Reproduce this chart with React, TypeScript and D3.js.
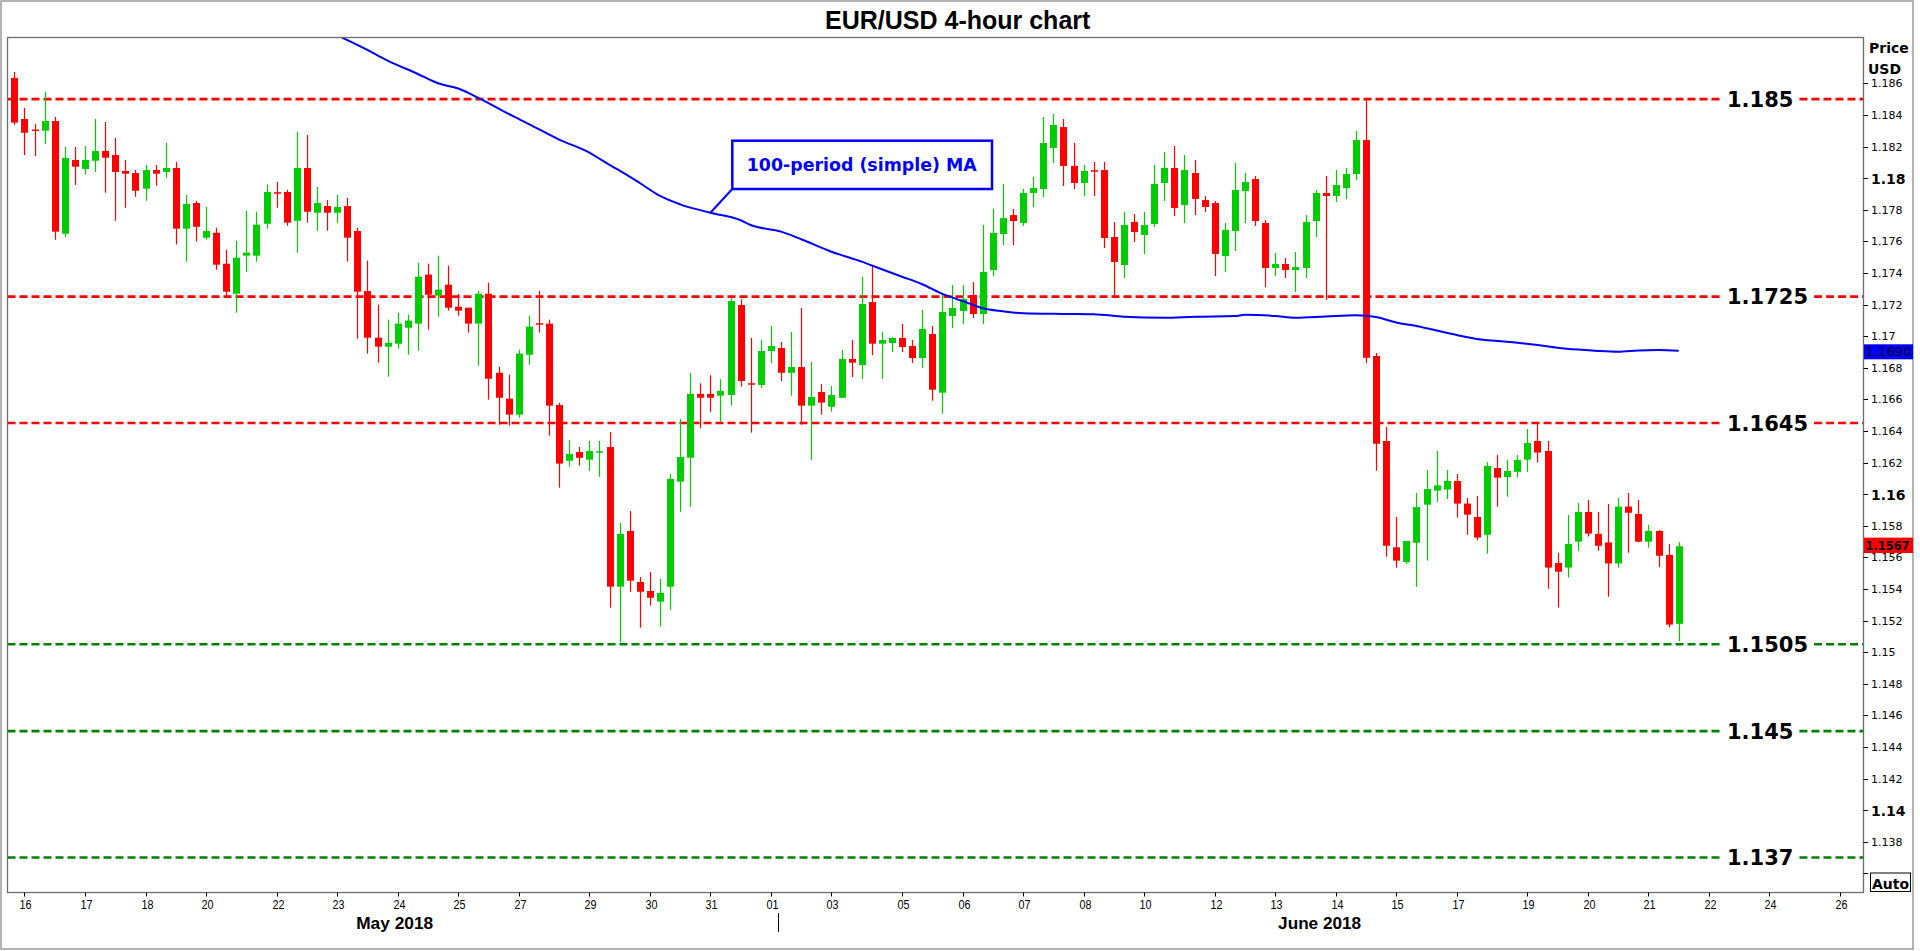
import React from 'react';
import * as d3 from 'd3';

// ---- Data (EUR/USD 4-hour bars, index 0 = last bar of 15 May 2018) ----
const barOpen = [
  1.18634, 1.18374, 1.18304, 1.183, 1.18361, 1.17648, 1.18115, 1.18058, 1.1811, 1.18172,
  1.18146, 1.18045, 1.18032, 1.17933, 1.18051, 1.18039, 1.18064, 1.1768, 1.17842, 1.17623,
  1.17654, 1.17458, 1.17268, 1.17509, 1.17509, 1.17711, 1.17908, 1.17912, 1.1773, 1.18064,
  1.17781, 1.17823, 1.17781, 1.17823, 1.17665, 1.17285, 1.1699, 1.16933, 1.16952, 1.17053,
  1.17079, 1.17389, 1.17256, 1.17325, 1.17186, 1.1718, 1.17079, 1.17268, 1.16768, 1.16604,
  1.16503, 1.16882, 1.17079, 1.17079, 1.16564, 1.16211, 1.16266, 1.16218, 1.16265, 1.16298,
  1.15414, 1.15767, 1.15444, 1.15387, 1.15319, 1.15414, 1.16079, 1.1623, 1.16634, 1.16634,
  1.16623, 1.16627, 1.17197, 1.16699, 1.16691, 1.16906, 1.16925, 1.16768, 1.16804, 1.1656,
  1.16646, 1.16553, 1.1661, 1.16855, 1.16817, 1.17216, 1.16952, 1.16956, 1.16988, 1.16937,
  1.16861, 1.17013, 1.16642, 1.17127, 1.17159, 1.1726, 1.1714, 1.17418, 1.17646, 1.17766,
  1.17716, 1.17906, 1.17931, 1.18191, 1.18323, 1.18077, 1.17969, 1.18047, 1.18051, 1.17627,
  1.1745, 1.17722, 1.1764, 1.1771, 1.17969, 1.18064, 1.1783, 1.18032, 1.17861, 1.17842,
  1.17507, 1.17665, 1.17918, 1.17994, 1.17716, 1.17431, 1.17456, 1.17418, 1.17431, 1.17728,
  1.17906, 1.17887, 1.17937, 1.18026, 1.18241, 1.16874, 1.16336, 1.15663, 1.1557, 1.15692,
  1.15933, 1.16022, 1.16029, 1.16083, 1.1594, 1.15855, 1.15743, 1.16165, 1.16108, 1.16141,
  1.16218, 1.16336, 1.16273, 1.15564, 1.15535, 1.15699, 1.15887, 1.15748, 1.15694, 1.15561,
  1.15921, 1.15874, 1.15699, 1.15767, 1.15615, 1.15179,
];
const barHigh = [
  1.18672, 1.18444, 1.18342, 1.18545, 1.18387, 1.18197, 1.18197, 1.18203, 1.18374, 1.18355,
  1.18254, 1.18115, 1.18051, 1.18083, 1.18083, 1.18222, 1.18102, 1.17893, 1.17855, 1.17817,
  1.17686, 1.17547, 1.17604, 1.17794, 1.17787, 1.17958, 1.17977, 1.17927, 1.18292, 1.18273,
  1.17944, 1.17861, 1.17893, 1.17874, 1.17686, 1.17477, 1.17199, 1.17104, 1.17148, 1.17135,
  1.17465, 1.17458, 1.17509, 1.17446, 1.17266, 1.1718, 1.17287, 1.17338, 1.16806, 1.16756,
  1.16914, 1.17129, 1.17287, 1.17104, 1.16577, 1.16342, 1.16298, 1.16336, 1.16336, 1.16393,
  1.15817, 1.15893, 1.15475, 1.15507, 1.15463, 1.16127, 1.16475, 1.16767, 1.16701, 1.16752,
  1.16727, 1.17243, 1.17233, 1.16988, 1.16975, 1.17064, 1.16963, 1.17026, 1.17178, 1.16836,
  1.16697, 1.16684, 1.16912, 1.16975, 1.17374, 1.17444, 1.17026, 1.16994, 1.17077, 1.16975,
  1.17165, 1.17064, 1.17267, 1.17323, 1.17323, 1.17342, 1.17703, 1.17806, 1.17963, 1.17804,
  1.17931, 1.18007, 1.18387, 1.18406, 1.18374, 1.18222, 1.18083, 1.18102, 1.18102, 1.17722,
  1.17785, 1.17773, 1.17785, 1.18083, 1.18165, 1.18203, 1.18146, 1.18115, 1.17887, 1.17855,
  1.17716, 1.18096, 1.18032, 1.18013, 1.17735, 1.17526, 1.17494, 1.17532, 1.17766, 1.17925,
  1.18013, 1.18051, 1.18064, 1.18298, 1.18508, 1.16893, 1.16425, 1.15855, 1.15703, 1.16007,
  1.16153, 1.16273, 1.16153, 1.16127, 1.15975, 1.15988, 1.16203, 1.16248, 1.16216, 1.16248,
  1.16412, 1.16456, 1.16336, 1.15627, 1.15868, 1.15944, 1.15963, 1.15887, 1.15937, 1.15975,
  1.16007, 1.15963, 1.15805, 1.15772, 1.15684, 1.15697,
];
const barLow = [
  1.18338, 1.18146, 1.1814, 1.18216, 1.1761, 1.17627, 1.17956, 1.18022, 1.18039, 1.17908,
  1.1773, 1.17813, 1.17882, 1.17857, 1.17952, 1.18003, 1.17579, 1.17471, 1.17598, 1.1761,
  1.1742, 1.17256, 1.17148, 1.17408, 1.17471, 1.1768, 1.17813, 1.17699, 1.17528, 1.17718,
  1.17667, 1.17667, 1.17718, 1.17471, 1.16984, 1.16889, 1.16832, 1.16743, 1.1692, 1.16882,
  1.16908, 1.17041, 1.17123, 1.17161, 1.17129, 1.17022, 1.16813, 1.16598, 1.16439, 1.16433,
  1.16484, 1.16819, 1.17022, 1.1637, 1.16041, 1.16174, 1.1618, 1.16148, 1.1611, 1.15281,
  1.1506, 1.15382, 1.15155, 1.15294, 1.15161, 1.15268, 1.15889, 1.1592, 1.16417, 1.16518,
  1.16454, 1.1656, 1.1668, 1.16389, 1.16672, 1.1683, 1.16716, 1.16623, 1.16439, 1.16216,
  1.16503, 1.16522, 1.1661, 1.16741, 1.16729, 1.1688, 1.16729, 1.16899, 1.16899, 1.1683,
  1.16798, 1.16591, 1.16509, 1.17051, 1.17077, 1.17115, 1.17077, 1.1738, 1.17577, 1.17577,
  1.17697, 1.17817, 1.1788, 1.18096, 1.1795, 1.17931, 1.17887, 1.17887, 1.17558, 1.17254,
  1.17368, 1.17596, 1.1752, 1.17691, 1.17855, 1.1776, 1.17716, 1.17766, 1.17785, 1.1738,
  1.17406, 1.17539, 1.17716, 1.17697, 1.17311, 1.1738, 1.17368, 1.17279, 1.17368, 1.17627,
  1.17229, 1.17849, 1.17868, 1.17988, 1.1683, 1.16148, 1.15603, 1.15535, 1.15558, 1.15413,
  1.15579, 1.15951, 1.15969, 1.15851, 1.15743, 1.15708, 1.15623, 1.15921, 1.15984, 1.16104,
  1.16141, 1.162, 1.15401, 1.15282, 1.15472, 1.15642, 1.15732, 1.15642, 1.1535, 1.15535,
  1.15629, 1.15695, 1.15661, 1.15539, 1.15156, 1.15069,
];
const barClose = [
  1.18351, 1.18287, 1.18301, 1.18361, 1.17661, 1.18127, 1.18072, 1.18115, 1.18172, 1.18129,
  1.18039, 1.18028, 1.1792, 1.18051, 1.18028, 1.18064, 1.1768, 1.17836, 1.17692, 1.17665,
  1.17452, 1.17281, 1.17496, 1.17528, 1.17705, 1.17912, 1.17904, 1.17718, 1.18064, 1.17787,
  1.17842, 1.17781, 1.17817, 1.17623, 1.17281, 1.1699, 1.16933, 1.16958, 1.17079, 1.17098,
  1.17376, 1.17262, 1.17294, 1.1718, 1.17161, 1.17079, 1.17268, 1.1673, 1.1661, 1.16503,
  1.16889, 1.1706, 1.17075, 1.1656, 1.16193, 1.16254, 1.1623, 1.16273, 1.16268, 1.15414,
  1.15748, 1.15452, 1.15382, 1.15344, 1.15374, 1.16096, 1.16235, 1.16634, 1.1661, 1.1661,
  1.16653, 1.17222, 1.16716, 1.16695, 1.16906, 1.16937, 1.16768, 1.16804, 1.1656, 1.16615,
  1.16579, 1.16627, 1.16855, 1.16832, 1.17203, 1.16952, 1.16975, 1.16988, 1.16931, 1.16861,
  1.17045, 1.16661, 1.17153, 1.17178, 1.17235, 1.1714, 1.17406, 1.17653, 1.17747, 1.17728,
  1.17906, 1.17937, 1.18222, 1.18336, 1.18077, 1.17969, 1.18045, 1.18043, 1.17621, 1.17469,
  1.17703, 1.17659, 1.17703, 1.17963, 1.18064, 1.17811, 1.18051, 1.17868, 1.17817, 1.1752,
  1.17672, 1.17925, 1.17975, 1.17728, 1.17431, 1.17456, 1.17418, 1.17437, 1.17722, 1.17906,
  1.17887, 1.17956, 1.18026, 1.18241, 1.16863, 1.16319, 1.15673, 1.15579, 1.15703, 1.15918,
  1.16032, 1.16055, 1.16083, 1.1594, 1.1587, 1.15725, 1.16178, 1.16104, 1.16146, 1.16216,
  1.16323, 1.16263, 1.15535, 1.15509, 1.15684, 1.15887, 1.1575, 1.15673, 1.15561, 1.15921,
  1.15882, 1.15699, 1.15767, 1.1561, 1.15174, 1.1567,
];

// 100-period simple moving average, read at these bar indices
const maIdx = [30, 35, 37, 40, 42, 44, 46, 49, 51, 54, 57, 59, 60, 62, 64, 66, 69, 72, 73, 76, 78, 81, 84, 86, 88, 90, 92, 94, 96, 98, 100, 104, 107, 110, 114, 117, 121, 122, 125, 127, 130, 133, 135, 137, 139, 141, 143, 145, 147, 149, 151, 153, 155, 157, 159, 161, 163, 165];
const maVal = [1.18963, 1.18811, 1.18744, 1.18659, 1.186, 1.18567, 1.18508, 1.18406, 1.18342, 1.18244, 1.18162, 1.18083, 1.18047, 1.17969, 1.17887, 1.17834, 1.17781, 1.17733, 1.17703, 1.17661, 1.17613, 1.17534, 1.17471, 1.17423, 1.17376, 1.17328, 1.17267, 1.17222, 1.17176, 1.17157, 1.17144, 1.1714, 1.17138, 1.17123, 1.17116, 1.17123, 1.17127, 1.17135, 1.17127, 1.17116, 1.17124, 1.17132, 1.17121, 1.17086, 1.17064, 1.17035, 1.17007, 1.16982, 1.16969, 1.16958, 1.16944, 1.16927, 1.16915, 1.16906, 1.16901, 1.16909, 1.16912, 1.16907];

const resistLevels = [1.185, 1.1725, 1.1645];
const supportLevels = [1.1505, 1.145, 1.137];
const resistLabels = ['1.185', '1.1725', '1.1645'];
const supportLabels = ['1.1505', '1.145', '1.137'];

const yTicks = [1.186, 1.184, 1.182, 1.18, 1.178, 1.176, 1.174, 1.172, 1.17, 1.168, 1.166, 1.164, 1.162, 1.16, 1.158, 1.156, 1.154, 1.152, 1.15, 1.148, 1.146, 1.144, 1.142, 1.14, 1.138];
const yTickUnlabelled = [1.136];

const xTickIdx = [1, 7, 13, 19, 26, 32, 38, 44, 50, 57, 63, 69, 75, 81, 88, 94, 100, 106, 112, 119, 125, 131, 137, 143, 150, 156, 162, 168, 174, 181];
const xTickLabels = ['16', '17', '18', '20', '22', '23', '24', '25', '27', '29', '30', '31', '01', '03', '05', '06', '07', '08', '10', '12', '13', '14', '15', '17', '19', '20', '21', '22', '24', '26'];

const monthLabels = ['May 2018', 'June 2018'];
const monthCentreIdx = [37.7, 129.4];
const monthBoundaryIdx = 75.7;

const lastMA = 1.169;
const lastPrice = 1.1567;

// ---- Layout ----
const W = 1920;
const H = 951;
const PL = 7.5;
const PR = 1863.5;
const PT = 37.5;
const PB = 892.5;

const RED = '#ff0000';
const GREEN = '#00cc00';
const LVL_GREEN = '#008000';
const BLUE = '#0000ff';

export default function App() {
  const x = d3.scaleLinear().domain([0, 181]).range([14.4, 1840.1]);
  const y = d3.scaleLinear().domain([1.186, 1.138]).range([83.3, 841.7]);

  const maLine = d3
    .line<number>()
    .x((_, i) => x(maIdx[i]))
    .y((v) => y(v))
    .curve(d3.curveMonotoneX);

  const bodyW = 7;
  const levelFont = 21;
  const levelTextX = 1727;
  const levelW = (s: string) => {
    let w = 0;
    for (const ch of s) w += ch === '.' ? 0.38 : 0.696;
    return w * levelFont;
  };

  const fmt = (v: number) => String(Number(v.toFixed(3)));

  const maAt69 = maVal[maIdx.indexOf(69)];

  const levels = [
    ...resistLevels.map((v, i) => ({ v, label: resistLabels[i], color: RED })),
    ...supportLevels.map((v, i) => ({ v, label: supportLabels[i], color: LVL_GREEN })),
  ];

  return (
    <svg
      width={W}
      height={H}
      style={{ position: 'fixed', left: 0, top: 0, background: '#fff' }}
      fontFamily="'DejaVu Sans', Verdana, sans-serif"
    >
      <defs>
        <clipPath id="plotClip">
          <rect x={PL} y={PT} width={PR - PL} height={PB - PT} />
        </clipPath>
      </defs>
      <rect x={0} y={0} width={W} height={H} fill="#fff" />
      {/* outer frame */}
      <rect x={1} y={1} width={1912} height={948} fill="none" stroke="#9a9a9a" strokeWidth={1.5} />

      {/* title */}
      <text
        x={957.7}
        y={29}
        textAnchor="middle"
        fontFamily="'Liberation Sans', Arial, sans-serif"
        fontWeight="bold"
        fontSize={25}
        fill="#000"
      >
        EUR/USD 4-hour chart
      </text>

      {/* level lines */}
      <g clipPath="url(#plotClip)">
        {levels.map((l, i) => {
          const yy = y(l.v);
          const gapL = levelTextX - 6;
          const gapR = levelTextX + levelW(l.label) + 6;
          return (
            <g key={'lvl' + i}>
              <line x1={PL} x2={gapL} y1={yy} y2={yy} stroke={l.color} strokeWidth={2.6} strokeDasharray="8,4" />
              <line x1={gapR} x2={PR} y1={yy} y2={yy} stroke={l.color} strokeWidth={2.6} strokeDasharray="8,4" />
            </g>
          );
        })}
      </g>

      {/* candles */}
      <g clipPath="url(#plotClip)">
        {barOpen.map((o, i) => {
          const c = barClose[i];
          const up = c > o;
          const col = up ? GREEN : RED;
          const cx = Math.round(x(i)) + 0.5;
          const top = y(Math.max(o, c));
          const bot = y(Math.min(o, c));
          const h = Math.max(1.5, bot - top);
          return (
            <g key={'c' + i}>
              <line x1={cx} x2={cx} y1={y(barHigh[i])} y2={y(barLow[i])} stroke={col} strokeWidth={1.2} />
              <rect x={cx - bodyW / 2} y={h === 1.5 ? (top + bot) / 2 - 0.75 : top} width={bodyW} height={h} fill={col} />
            </g>
          );
        })}
      </g>

      {/* moving average */}
      <g clipPath="url(#plotClip)">
        <path d={maLine(maVal) || ''} fill="none" stroke={BLUE} strokeWidth={2} />
      </g>

      {/* MA annotation */}
      <line x1={732.3} y1={189} x2={x(69)} y2={y(maAt69)} stroke={BLUE} strokeWidth={2} />
      <rect x={732.3} y={140.7} width={259.7} height={48.3} fill="#fff" stroke={BLUE} strokeWidth={2.5} />
      <text
        x={861.7}
        y={171}
        textAnchor="middle"
        fontWeight="bold"
        fontSize={18}
        fill={BLUE}
        textLength={230}
        lengthAdjust="spacingAndGlyphs"
      >
        100-period (simple) MA
      </text>

      {/* level labels */}
      {levels.map((l, i) => (
        <text
          key={'lt' + i}
          x={levelTextX}
          y={y(l.v)}
          dy="0.36em"
          fontWeight="bold"
          fontSize={levelFont}
          fill="#000"
        >
          {l.label}
        </text>
      ))}

      {/* plot frame */}
      <rect x={PL} y={PT} width={PR - PL} height={PB - PT} fill="none" stroke="#6d6d6d" strokeWidth={1.3} />

      {/* y axis */}
      {yTicks.map((v) => {
        const yy = Math.round(y(v)) + 0.5;
        const major = Math.abs(Math.round(v * 50) - v * 50) < 1e-6;
        return (
          <g key={'yt' + v}>
            <line x1={PR} x2={PR + 4.5} y1={yy} y2={yy} stroke="#000" strokeWidth={1} />
            <text
              x={1871}
              y={yy}
              dy="0.36em"
              fontSize={major ? 14 : 11}
              fontWeight={major ? 'bold' : 'normal'}
              fill="#000"
            >
              {fmt(v)}
            </text>
          </g>
        );
      })}
      {yTickUnlabelled.map((v) => (
        <line key={'yu' + v} x1={PR} x2={PR + 4.5} y1={Math.round(y(v)) + 0.5} y2={Math.round(y(v)) + 0.5} stroke="#000" />
      ))}
      <text x={1869} y={52.7} fontSize={14} fontWeight="bold" fill="#000">Price</text>
      <text x={1868} y={74} fontSize={14} fontWeight="bold" fill="#000">USD</text>

      {/* last MA value box */}
      <rect x={1864} y={y(lastMA) - 7.6} width={49} height={15} fill={BLUE} />
      <text x={1865.5} y={y(lastMA)} dy="0.36em" fontSize={12.5} fill="#000022" textLength={46} lengthAdjust="spacingAndGlyphs">
        {lastMA.toFixed(4)}
      </text>
      {/* last price box */}
      <rect x={1864} y={y(lastPrice) - 8.6} width={49} height={15.4} fill={RED} />
      <text x={1865.5} y={y(lastPrice) - 1} dy="0.36em" fontSize={12} fontWeight="bold" fill="#000" textLength={44} lengthAdjust="spacingAndGlyphs">
        {lastPrice.toFixed(4)}
      </text>

      {/* Auto button */}
      <rect x={1870.5} y={873} width={40} height={18.5} fill="#fff" stroke="#000" strokeWidth={1} />
      <text x={1872} y={888.5} fontSize={14} fontWeight="bold" fill="#000" textLength={37} lengthAdjust="spacingAndGlyphs">
        Auto
      </text>

      {/* x axis */}
      {xTickIdx.map((idx, i) => {
        const xx = Math.round(x(idx)) + 0.5;
        return (
          <g key={'xt' + i}>
            <line x1={xx} x2={xx} y1={PB} y2={PB + 4} stroke="#000" strokeWidth={1} />
            <text
              x={xx + 1}
              y={909}
              textAnchor="middle"
              fontFamily="'Liberation Sans Narrow', 'Liberation Sans', Arial, sans-serif"
              fontSize={13}
              fill="#000"
              textLength={12}
              lengthAdjust="spacingAndGlyphs"
            >
              {xTickLabels[i]}
            </text>
          </g>
        );
      })}
      {monthLabels.map((m, i) => (
        <text
          key={'m' + i}
          x={x(monthCentreIdx[i])}
          y={929}
          textAnchor="middle"
          fontFamily="'Liberation Sans Narrow', 'Liberation Sans', Arial, sans-serif"
          fontWeight="bold"
          fontSize={17}
          fill="#000"
          textLength={i === 0 ? 77 : 83}
          lengthAdjust="spacingAndGlyphs"
        >
          {m}
        </text>
      ))}
      <line
        x1={Math.round(x(monthBoundaryIdx)) + 0.5}
        x2={Math.round(x(monthBoundaryIdx)) + 0.5}
        y1={913}
        y2={932}
        stroke="#000"
        strokeWidth={1}
      />
    </svg>
  );
}
